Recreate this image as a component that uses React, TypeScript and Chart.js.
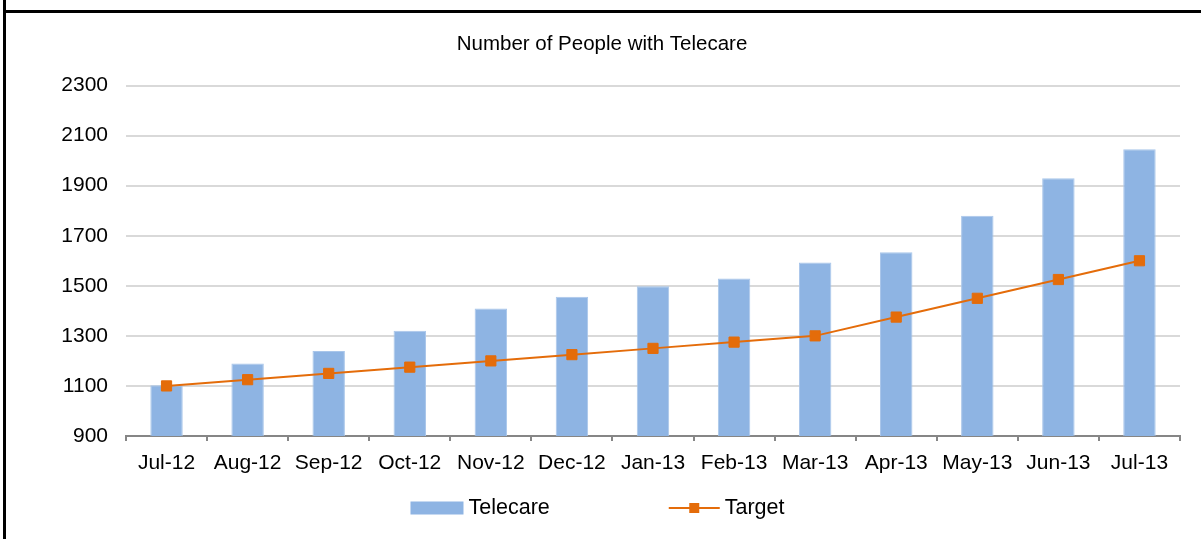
import React, { useEffect, useRef } from "react";
import { Chart, registerables } from "chart.js";

Chart.register(...registerables);

const categories = ["Jul-12", "Aug-12", "Sep-12", "Oct-12", "Nov-12", "Dec-12", "Jan-13", "Feb-13", "Mar-13", "Apr-13", "May-13", "Jun-13", "Jul-13"];
const telecare = [1103, 1190, 1240, 1320, 1409, 1456, 1498, 1529, 1593, 1634, 1780, 1930, 2045];
const target = [1100, 1125, 1150, 1175, 1200, 1225, 1250, 1275, 1300, 1375, 1450, 1525, 1600];
const yMin = 900;
const yMax = 2300;
const yStep = 200;

const FONT = "'Liberation Sans', Arial, sans-serif";
const BAR_COLOR = "#8EB4E3";
const LINE_COLOR = "#E46C0A";

const legendPlugin = {
  id: "customLegend",
  afterDraw(chart: any) {
    const ctx = chart.ctx;
    ctx.save();
    ctx.font = `21.5px ${FONT}`;
    ctx.textBaseline = "middle";
    ctx.fillStyle = "#000";
    const t1 = "Telecare";
    const t2 = "Target";
    const w1 = ctx.measureText(t1).width;
    const w2 = ctx.measureText(t2).width;
    const boxW = 53, boxH = 13, gap = 5, itemGap = 119, lineW = 51;
    const total = boxW + gap + w1 + itemGap + lineW + gap + w2;
    let x = chart.width / 2 - 3 - total / 2;
    const cy = 508;
    ctx.fillStyle = BAR_COLOR;
    ctx.fillRect(x, cy - boxH / 2, boxW, boxH);
    x += boxW + gap;
    ctx.fillStyle = "#000";
    ctx.fillText(t1, x, cy);
    x += w1 + itemGap;
    ctx.strokeStyle = LINE_COLOR;
    ctx.lineWidth = 2;
    ctx.beginPath();
    ctx.moveTo(x, cy);
    ctx.lineTo(x + lineW, cy);
    ctx.stroke();
    ctx.fillStyle = LINE_COLOR;
    ctx.fillRect(x + lineW / 2 - 5, cy - 5, 10, 10);
    x += lineW + gap;
    ctx.fillStyle = "#000";
    ctx.fillText(t2, x, cy);
    ctx.restore();
  },
};

export default function App() {
  const ref = useRef<HTMLCanvasElement | null>(null);
  useEffect(() => {
    if (!ref.current) return;
    const chart = new Chart(ref.current, {
      type: "bar",
      data: {
        labels: categories,
        datasets: [
          {
            type: "line",
            label: "Target",
            data: target,
            borderColor: LINE_COLOR,
            backgroundColor: LINE_COLOR,
            borderWidth: 2,
            pointStyle: "rect",
            pointRadius: 7.2,
            pointBorderWidth: 1,
            pointBackgroundColor: LINE_COLOR,
            pointBorderColor: LINE_COLOR,
            tension: 0,
            order: 0,
          } as any,
          {
            type: "bar",
            label: "Telecare",
            data: telecare,
            backgroundColor: BAR_COLOR,
            borderColor: "#A9C6EA",
            borderWidth: 1,
            barPercentage: 0.4,
            categoryPercentage: 1,
            order: 1,
          },
        ],
      },
      options: {
        responsive: false,
        animation: false,
        devicePixelRatio: 1,
        layout: { padding: { left: 3, right: 0, top: 0, bottom: 63 } },
        plugins: {
          legend: { display: false },
          tooltip: { enabled: false },
          title: {
            display: true,
            text: "Number of People with Telecare",
            color: "#000",
            font: { family: FONT, size: 20.5, weight: "normal" },
            padding: { top: 32, bottom: 28.9 },
          },
        },
        scales: {
          x: {
            grid: {
              offset: true,
              drawOnChartArea: false,
              drawTicks: true,
              tickLength: 5,
              color: "#868686",
              lineWidth: 2,
            },
            border: { display: true, color: "#868686", width: 2 },
            ticks: {
              color: "#000",
              font: { family: FONT, size: 21 },
              padding: 10,
              maxRotation: 0,
              autoSkip: false,
            },
            afterFit: (s: any) => {
              s.height = 40;
            },
          },
          y: {
            min: yMin,
            max: yMax,
            ticks: {
              stepSize: yStep,
              color: "#000",
              font: { family: FONT, size: 21 },
              padding: 18,
              callback: (v: any) => String(v),
            },
            grid: { color: "#D9D9D9", lineWidth: 2, drawTicks: false },
            border: { display: false },
            afterFit: (s: any) => {
              s.width = 123;
            },
          },
          yRight: {
            position: "right",
            min: yMin,
            max: yMax,
            ticks: { display: false },
            grid: { display: false, drawTicks: false },
            border: { display: false },
            afterFit: (s: any) => {
              s.width = 21;
            },
          },
        },
      },
      plugins: [legendPlugin],
    });
    return () => chart.destroy();
  }, []);

  return (
    <div style={{ position: "absolute", left: 0, top: 0, width: 1201, height: 539, background: "#fff", overflow: "hidden" }}>
      <canvas ref={ref} width={1201} height={539} style={{ display: "block" }} />
      <div style={{ position: "absolute", left: 3, top: 0, width: 3, height: 539, background: "#000" }} />
      <div style={{ position: "absolute", left: 3, top: 10, width: 1198, height: 3, background: "#000" }} />
    </div>
  );
}
